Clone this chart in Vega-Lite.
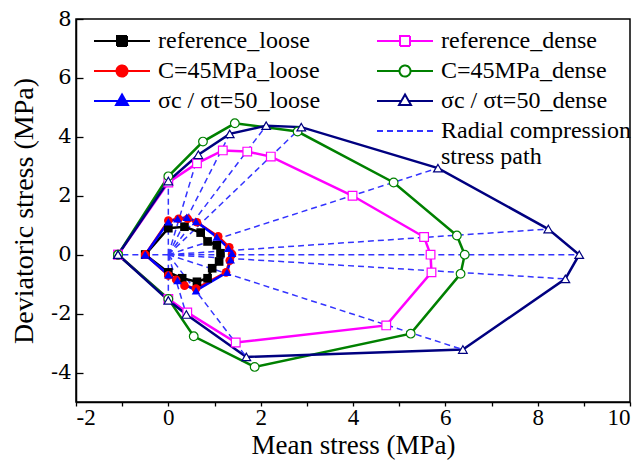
{
  "$schema": "https://vega.github.io/schema/vega-lite/v6.json",
  "width": 554,
  "height": 383,
  "autosize": "none",
  "padding": {"left": 76, "top": 19, "right": 14, "bottom": 63},
  "background": "white",
  "config": {
    "view": {"stroke": "black", "strokeWidth": 1.5},
    "axis": {
      "grid": false,
      "domainColor": "black",
      "domainWidth": 1.5,
      "tickColor": "black",
      "tickWidth": 1.3,
      "labelFontSize": 24,
      "labelColor": "black",
      "titleFont": "Liberation Serif",
      "titleFontSize": 28,
      "titleFontWeight": "normal",
      "titleColor": "black"
    }
  },
  "datasets": {
    "curves": [
      {"series": "reference_loose", "kind": "loose", "mk": "square", "i": 0, "x": -0.5, "y": 0},
      {"series": "reference_loose", "kind": "loose", "mk": "square", "i": 1, "x": 0, "y": 0.9},
      {"series": "reference_loose", "kind": "loose", "mk": "square", "i": 2, "x": 0.35, "y": 0.95},
      {"series": "reference_loose", "kind": "loose", "mk": "square", "i": 3, "x": 0.7, "y": 0.75},
      {"series": "reference_loose", "kind": "loose", "mk": "square", "i": 4, "x": 0.85, "y": 0.45},
      {"series": "reference_loose", "kind": "loose", "mk": "square", "i": 5, "x": 1.05, "y": 0.32},
      {"series": "reference_loose", "kind": "loose", "mk": "square", "i": 6, "x": 1.13, "y": 0.05},
      {"series": "reference_loose", "kind": "loose", "mk": "square", "i": 7, "x": 1.1, "y": -0.23},
      {"series": "reference_loose", "kind": "loose", "mk": "square", "i": 8, "x": 0.95, "y": -0.46},
      {"series": "reference_loose", "kind": "loose", "mk": "square", "i": 9, "x": 0.85, "y": -0.8},
      {"series": "reference_loose", "kind": "loose", "mk": "square", "i": 10, "x": 0.62, "y": -0.92},
      {"series": "reference_loose", "kind": "loose", "mk": "square", "i": 11, "x": 0.3, "y": -0.8},
      {"series": "reference_loose", "kind": "loose", "mk": "square", "i": 12, "x": 0, "y": -0.6},
      {"series": "reference_loose", "kind": "loose", "mk": "square", "i": 13, "x": -0.5, "y": 0},

      {"series": "C=45MPa_loose", "kind": "loose", "mk": "circle", "i": 0, "x": -0.5, "y": 0},
      {"series": "C=45MPa_loose", "kind": "loose", "mk": "circle", "i": 1, "x": 0, "y": 1.16},
      {"series": "C=45MPa_loose", "kind": "loose", "mk": "circle", "i": 2, "x": 0.22, "y": 1.22},
      {"series": "C=45MPa_loose", "kind": "loose", "mk": "circle", "i": 3, "x": 0.42, "y": 1.22},
      {"series": "C=45MPa_loose", "kind": "loose", "mk": "circle", "i": 4, "x": 0.62, "y": 1.1},
      {"series": "C=45MPa_loose", "kind": "loose", "mk": "circle", "i": 5, "x": 1.08, "y": 0.62},
      {"series": "C=45MPa_loose", "kind": "loose", "mk": "circle", "i": 6, "x": 1.32, "y": 0.25},
      {"series": "C=45MPa_loose", "kind": "loose", "mk": "circle", "i": 7, "x": 1.38, "y": 0.02},
      {"series": "C=45MPa_loose", "kind": "loose", "mk": "circle", "i": 8, "x": 1.33, "y": -0.2},
      {"series": "C=45MPa_loose", "kind": "loose", "mk": "circle", "i": 9, "x": 1.25, "y": -0.6},
      {"series": "C=45MPa_loose", "kind": "loose", "mk": "circle", "i": 10, "x": 0.6, "y": -1.15},
      {"series": "C=45MPa_loose", "kind": "loose", "mk": "circle", "i": 11, "x": 0.35, "y": -1.05},
      {"series": "C=45MPa_loose", "kind": "loose", "mk": "circle", "i": 12, "x": 0.17, "y": -0.85},
      {"series": "C=45MPa_loose", "kind": "loose", "mk": "circle", "i": 13, "x": 0, "y": -0.7},
      {"series": "C=45MPa_loose", "kind": "loose", "mk": "circle", "i": 14, "x": -0.5, "y": 0},

      {"series": "σc / σt=50_loose", "kind": "loose", "mk": "triangle-up", "i": 0, "x": -0.5, "y": 0},
      {"series": "σc / σt=50_loose", "kind": "loose", "mk": "triangle-up", "i": 1, "x": 0, "y": 1.12},
      {"series": "σc / σt=50_loose", "kind": "loose", "mk": "triangle-up", "i": 2, "x": 0.2, "y": 1.22},
      {"series": "σc / σt=50_loose", "kind": "loose", "mk": "triangle-up", "i": 3, "x": 0.4, "y": 1.27},
      {"series": "σc / σt=50_loose", "kind": "loose", "mk": "triangle-up", "i": 4, "x": 0.6, "y": 1.13},
      {"series": "σc / σt=50_loose", "kind": "loose", "mk": "triangle-up", "i": 5, "x": 1.05, "y": 0.6},
      {"series": "σc / σt=50_loose", "kind": "loose", "mk": "triangle-up", "i": 6, "x": 1.3, "y": 0.22},
      {"series": "σc / σt=50_loose", "kind": "loose", "mk": "triangle-up", "i": 7, "x": 1.38, "y": 0.05},
      {"series": "σc / σt=50_loose", "kind": "loose", "mk": "triangle-up", "i": 8, "x": 1.35, "y": -0.17},
      {"series": "σc / σt=50_loose", "kind": "loose", "mk": "triangle-up", "i": 9, "x": 1.27, "y": -0.6},
      {"series": "σc / σt=50_loose", "kind": "loose", "mk": "triangle-up", "i": 10, "x": 0.6, "y": -1.22},
      {"series": "σc / σt=50_loose", "kind": "loose", "mk": "triangle-up", "i": 11, "x": 0.2, "y": -0.88},
      {"series": "σc / σt=50_loose", "kind": "loose", "mk": "triangle-up", "i": 12, "x": 0, "y": -0.68},
      {"series": "σc / σt=50_loose", "kind": "loose", "mk": "triangle-up", "i": 13, "x": -0.5, "y": 0},

      {"series": "reference_dense", "kind": "dense", "mk": "square", "i": 0, "x": -1.09, "y": 0},
      {"series": "reference_dense", "kind": "dense", "mk": "square", "i": 1, "x": 0, "y": 2.45},
      {"series": "reference_dense", "kind": "dense", "mk": "square", "i": 2, "x": 0.62, "y": 3.1},
      {"series": "reference_dense", "kind": "dense", "mk": "square", "i": 3, "x": 1.18, "y": 3.54},
      {"series": "reference_dense", "kind": "dense", "mk": "square", "i": 4, "x": 1.71, "y": 3.5},
      {"series": "reference_dense", "kind": "dense", "mk": "square", "i": 5, "x": 2.22, "y": 3.33},
      {"series": "reference_dense", "kind": "dense", "mk": "square", "i": 6, "x": 3.99, "y": 2.0},
      {"series": "reference_dense", "kind": "dense", "mk": "square", "i": 7, "x": 5.54, "y": 0.6},
      {"series": "reference_dense", "kind": "dense", "mk": "square", "i": 8, "x": 5.68, "y": 0},
      {"series": "reference_dense", "kind": "dense", "mk": "square", "i": 9, "x": 5.7, "y": -0.6},
      {"series": "reference_dense", "kind": "dense", "mk": "square", "i": 10, "x": 4.72, "y": -2.4},
      {"series": "reference_dense", "kind": "dense", "mk": "square", "i": 11, "x": 1.46, "y": -2.98},
      {"series": "reference_dense", "kind": "dense", "mk": "square", "i": 12, "x": 0.41, "y": -1.96},
      {"series": "reference_dense", "kind": "dense", "mk": "square", "i": 13, "x": 0, "y": -1.5},
      {"series": "reference_dense", "kind": "dense", "mk": "square", "i": 14, "x": -1.09, "y": 0},

      {"series": "C=45MPa_dense", "kind": "dense", "mk": "circle", "i": 0, "x": -1.09, "y": 0},
      {"series": "C=45MPa_dense", "kind": "dense", "mk": "circle", "i": 1, "x": 0, "y": 2.66},
      {"series": "C=45MPa_dense", "kind": "dense", "mk": "circle", "i": 2, "x": 0.75, "y": 3.84},
      {"series": "C=45MPa_dense", "kind": "dense", "mk": "circle", "i": 3, "x": 1.44, "y": 4.46},
      {"series": "C=45MPa_dense", "kind": "dense", "mk": "circle", "i": 4, "x": 2.8, "y": 4.18},
      {"series": "C=45MPa_dense", "kind": "dense", "mk": "circle", "i": 5, "x": 4.88, "y": 2.45},
      {"series": "C=45MPa_dense", "kind": "dense", "mk": "circle", "i": 6, "x": 6.25, "y": 0.65},
      {"series": "C=45MPa_dense", "kind": "dense", "mk": "circle", "i": 7, "x": 6.42, "y": 0},
      {"series": "C=45MPa_dense", "kind": "dense", "mk": "circle", "i": 8, "x": 6.33, "y": -0.65},
      {"series": "C=45MPa_dense", "kind": "dense", "mk": "circle", "i": 9, "x": 5.25, "y": -2.68},
      {"series": "C=45MPa_dense", "kind": "dense", "mk": "circle", "i": 10, "x": 1.87, "y": -3.81},
      {"series": "C=45MPa_dense", "kind": "dense", "mk": "circle", "i": 11, "x": 0.55, "y": -2.77},
      {"series": "C=45MPa_dense", "kind": "dense", "mk": "circle", "i": 12, "x": 0, "y": -1.5},
      {"series": "C=45MPa_dense", "kind": "dense", "mk": "circle", "i": 13, "x": -1.09, "y": 0},

      {"series": "σc / σt=50_dense", "kind": "dense", "mk": "triangle-up", "i": 0, "x": -1.09, "y": 0},
      {"series": "σc / σt=50_dense", "kind": "dense", "mk": "triangle-up", "i": 1, "x": 0, "y": 2.5},
      {"series": "σc / σt=50_dense", "kind": "dense", "mk": "triangle-up", "i": 2, "x": 0.65, "y": 3.39},
      {"series": "σc / σt=50_dense", "kind": "dense", "mk": "triangle-up", "i": 3, "x": 1.33, "y": 4.1},
      {"series": "σc / σt=50_dense", "kind": "dense", "mk": "triangle-up", "i": 4, "x": 2.12, "y": 4.38},
      {"series": "σc / σt=50_dense", "kind": "dense", "mk": "triangle-up", "i": 5, "x": 2.88, "y": 4.33},
      {"series": "σc / σt=50_dense", "kind": "dense", "mk": "triangle-up", "i": 6, "x": 5.84, "y": 2.94},
      {"series": "σc / σt=50_dense", "kind": "dense", "mk": "triangle-up", "i": 7, "x": 8.23, "y": 0.87},
      {"series": "σc / σt=50_dense", "kind": "dense", "mk": "triangle-up", "i": 8, "x": 8.9, "y": 0},
      {"series": "σc / σt=50_dense", "kind": "dense", "mk": "triangle-up", "i": 9, "x": 8.6, "y": -0.82},
      {"series": "σc / σt=50_dense", "kind": "dense", "mk": "triangle-up", "i": 10, "x": 6.38, "y": -3.22},
      {"series": "σc / σt=50_dense", "kind": "dense", "mk": "triangle-up", "i": 11, "x": 1.69, "y": -3.47},
      {"series": "σc / σt=50_dense", "kind": "dense", "mk": "triangle-up", "i": 12, "x": 0.39, "y": -2.03},
      {"series": "σc / σt=50_dense", "kind": "dense", "mk": "triangle-up", "i": 13, "x": 0, "y": -1.55},
      {"series": "σc / σt=50_dense", "kind": "dense", "mk": "triangle-up", "i": 14, "x": -1.09, "y": 0}
    ],
    "rays": [
      {"series": "Radial compression stress path", "x0": 0, "y0": 0, "x": -1.09, "y": 0},
      {"series": "Radial compression stress path", "x0": 0, "y0": 0, "x": 0, "y": 2.5},
      {"series": "Radial compression stress path", "x0": 0, "y0": 0, "x": 0.65, "y": 3.39},
      {"series": "Radial compression stress path", "x0": 0, "y0": 0, "x": 1.33, "y": 4.1},
      {"series": "Radial compression stress path", "x0": 0, "y0": 0, "x": 2.12, "y": 4.38},
      {"series": "Radial compression stress path", "x0": 0, "y0": 0, "x": 2.88, "y": 4.33},
      {"series": "Radial compression stress path", "x0": 0, "y0": 0, "x": 5.84, "y": 2.94},
      {"series": "Radial compression stress path", "x0": 0, "y0": 0, "x": 8.23, "y": 0.87},
      {"series": "Radial compression stress path", "x0": 0, "y0": 0, "x": 8.9, "y": 0},
      {"series": "Radial compression stress path", "x0": 0, "y0": 0, "x": 8.6, "y": -0.82},
      {"series": "Radial compression stress path", "x0": 0, "y0": 0, "x": 6.38, "y": -3.22},
      {"series": "Radial compression stress path", "x0": 0, "y0": 0, "x": 1.69, "y": -3.47},
      {"series": "Radial compression stress path", "x0": 0, "y0": 0, "x": 0.39, "y": -2.03},
      {"series": "Radial compression stress path", "x0": 0, "y0": 0, "x": 0, "y": -1.55}
    ]
  },
  "layer": [
    {
      "data": {"name": "curves"},
      "transform": [{"filter": "datum.kind == 'dense'"}],
      "mark": {"type": "line", "strokeWidth": 2.5},
      "encoding": {
        "x": {
          "field": "x", "type": "quantitative",
          "scale": {"domain": [-2, 10], "nice": false, "zero": false},
          "axis": {
            "title": "Mean stress (MPa)",
            "titleFontSize": 27,
            "values": [-2, -1, 0, 1, 2, 3, 4, 5, 6, 7, 8, 9, 10],
            "labelExpr": "datum.value % 2 === 0 ? '' + datum.value : ''",
            "labelFont": {"expr": "'Liberation Serif'"},
            "labelFontSize": 23,
            "labelPadding": 0,
            "titlePadding": 3,
            "tickSize": 4,
            "encode": {
              "ticks": {"update": {"y2": {"signal": "datum.value % 2 === 0 ? -7 : -4"}}}
            }
          }
        },
        "y": {
          "field": "y", "type": "quantitative",
          "scale": {"domain": [-5, 8], "nice": false, "zero": false},
          "axis": {
            "title": "Deviatoric stress (MPa)",
            "values": [-4, -3, -2, -1, 0, 1, 2, 3, 4, 5, 6, 7, 8],
            "labelExpr": "datum.value % 2 === 0 ? '' + datum.value : ''",
            "labelFont": "DejaVu Serif",
            "labelFontSize": 21,
            "labelPadding": 12,
            "tickSize": -7,
            "titlePadding": 12,
            "encode": {
              "ticks": {"update": {"x2": {"signal": "datum.value % 2 === 0 ? 7 : 4"}}}
            }
          }
        },
        "color": {
          "field": "series", "type": "nominal",
          "scale": {
            "domain": ["reference_loose", "reference_dense", "C=45MPa_loose", "C=45MPa_dense", "σc / σt=50_loose", "σc / σt=50_dense", " ", "Radial compression stress path"],
            "range": ["#000000", "#ff00ff", "#ff0000", "#008000", "#0000ff", "#000080", "#ffffff", "#3333ff"]
          },
          "legend": {
            "title": null,
            "orient": "none",
            "legendX": 16,
            "legendY": 10,
            "direction": "horizontal",
            "columns": 2,
            "columnPadding": 52,
            "rowPadding": 6,
            "padding": 0,
            "symbolSize": 400,
            "symbolStrokeWidth": 2,
            "labelOffset": 42,
            "labelFont": {"expr": "'Liberation Serif'"},
            "labelFontSize": 24,
            "labelColor": "black",
            "labelLimit": 400,
            "labelExpr": "datum.label == 'Radial compression stress path' ? ['Radial compression', 'stress path'] : datum.label == ' ' ? '' : datum.label",
            "encode": {
              "symbols": {
                "update": {
                  "shape": {"signal": "indexof(datum.value, 'reference') >= 0 ? 'M-1,0H1.3M2.3,0H4.6M1.3,-0.5H2.3V0.5H1.3Z' : indexof(datum.value, 'C=45') >= 0 ? 'M-1,0H1.25M2.35,0H4.6M1.25,0A0.55,0.55 0 1,1 2.35,0A0.55,0.55 0 1,1 1.25,0Z' : indexof(datum.value, '50_') >= 0 ? 'M-1,0H1.35M2.25,0H4.6M1.8,-0.65L2.4,0.4H1.2Z' : 'M-1,0H4.6'"},
                  "fill": {"signal": "indexof(datum.value, 'loose') >= 0 ? scale('color', datum.value) : '#ffffff'"},
                  "strokeDash": {"signal": "datum.value == 'Radial compression stress path' ? [6, 4] : [1, 0]"},
                  "opacity": {"signal": "datum.value == ' ' ? 0 : 1"},
                  "strokeWidth": {"value": 2}
                }
              }
            }
          }
        },
        "detail": {"field": "series", "type": "nominal"},
        "order": {"field": "i", "type": "quantitative"}
      }
    },
    {
      "data": {"name": "rays"},
      "mark": {"type": "rule", "strokeDash": [6, 4], "strokeWidth": 1.5},
      "encoding": {
        "x": {"field": "x0", "type": "quantitative"},
        "y": {"field": "y0", "type": "quantitative"},
        "x2": {"field": "x"},
        "y2": {"field": "y"},
        "color": {"field": "series", "type": "nominal"}
      }
    },
    {
      "data": {"name": "curves"},
      "transform": [{"filter": "datum.kind == 'loose'"}],
      "mark": {"type": "line", "strokeWidth": 2.5},
      "encoding": {
        "x": {"field": "x", "type": "quantitative"},
        "y": {"field": "y", "type": "quantitative"},
        "color": {"field": "series", "type": "nominal"},
        "detail": {"field": "series", "type": "nominal"},
        "order": {"field": "i", "type": "quantitative"}
      }
    },
    {
      "data": {"name": "curves"},
      "transform": [{"filter": "datum.kind == 'dense'"}],
      "mark": {"type": "point", "filled": false, "fill": "white", "size": 75, "strokeWidth": 1.2, "opacity": 1},
      "encoding": {
        "x": {"field": "x", "type": "quantitative"},
        "y": {"field": "y", "type": "quantitative"},
        "color": {"field": "series", "type": "nominal"},
        "shape": {"field": "mk", "type": "nominal", "scale": null}
      }
    },
    {
      "data": {"name": "curves"},
      "transform": [{"filter": "datum.kind == 'loose'"}],
      "mark": {"type": "point", "filled": true, "size": 75, "opacity": 1, "strokeWidth": 0},
      "encoding": {
        "x": {"field": "x", "type": "quantitative"},
        "y": {"field": "y", "type": "quantitative"},
        "fill": {
          "field": "series", "type": "nominal",
          "scale": {
            "domain": ["reference_loose", "C=45MPa_loose", "σc / σt=50_loose"],
            "range": ["#000000", "#ff0000", "#0000ff"]
          },
          "legend": null
        },
        "shape": {"field": "mk", "type": "nominal", "scale": null}
      }
    }
  ]
}
